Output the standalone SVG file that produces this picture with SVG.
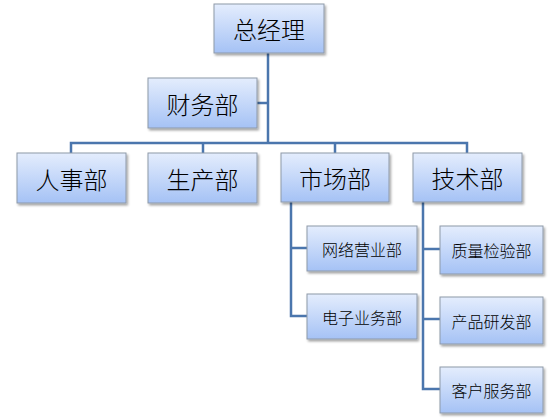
<svg xmlns="http://www.w3.org/2000/svg" width="560" height="420" viewBox="0 0 560 420">
<defs>
<linearGradient id="g" x1="0" y1="0" x2="0" y2="1">
<stop offset="0" stop-color="#e4edfd"/>
<stop offset="1" stop-color="#a5c2f5"/>
</linearGradient>
<filter id="sh" x="-10%" y="-10%" width="130%" height="140%">
<feDropShadow dx="1.5" dy="2" stdDeviation="1.2" flood-color="#000" flood-opacity="0.35"/>
</filter>
<style>
.b{fill:url(#g);stroke:#8e99a8;stroke-width:1;filter:url(#sh)}
.L{font-family:"Noto Sans CJK SC","Noto Sans",sans-serif;font-size:24px;font-weight:300;fill:#000;text-anchor:middle;dominant-baseline:central}
.S{font-family:"Noto Sans CJK SC","Noto Sans",sans-serif;font-size:16px;font-weight:300;fill:#000;text-anchor:middle;dominant-baseline:central}
.c{fill:none;stroke:#4b76ad;stroke-width:2.5}
</style>
</defs>
<g id="connectors">
<path class="c" d="M268 53 V143"/>
<path class="c" d="M257 103 H268"/>
<path class="c" d="M71 153 V143 H467 V153"/>
<path class="c" d="M203 143 V153"/>
<path class="c" d="M335 143 V153"/>
<path class="c" d="M291 202 V316 H307"/>
<path class="c" d="M291 248 H307"/>
<path class="c" d="M423 202 V389 H440"/>
<path class="c" d="M423 249 H440"/>
<path class="c" d="M423 319 H440"/>
</g>
<g id="n-zjl"><rect class="b" x="214" y="4" width="110" height="49"/><text class="L" x="269" y="28.5">总经理</text></g>
<g id="n-cwb"><rect class="b" x="148" y="78" width="109" height="50"/><text class="L" x="202.5" y="103">财务部</text></g>
<g id="n-rsb"><rect class="b" x="17" y="153" width="109" height="50"/><text class="L" x="71.5" y="178">人事部</text></g>
<g id="n-scb"><rect class="b" x="148" y="153" width="109" height="50"/><text class="L" x="202.5" y="178">生产部</text></g>
<g id="n-sc"><rect class="b" x="281" y="153" width="108" height="49"/><text class="L" x="335" y="177.5">市场部</text></g>
<g id="n-js"><rect class="b" x="413" y="153" width="109" height="49"/><text class="L" x="467.5" y="177.5">技术部</text></g>
<g id="n-wl"><rect class="b" x="307" y="226" width="110" height="45"/><text class="S" x="362" y="248.5">网络营业部</text></g>
<g id="n-dz"><rect class="b" x="307" y="294" width="110" height="45"/><text class="S" x="362" y="316.5">电子业务部</text></g>
<g id="n-zl"><rect class="b" x="440" y="226" width="103" height="48"/><text class="S" x="491.5" y="250">质量检验部</text></g>
<g id="n-cp"><rect class="b" x="440" y="297" width="103" height="47"/><text class="S" x="491.5" y="320.5">产品研发部</text></g>
<g id="n-kh"><rect class="b" x="440" y="367" width="103" height="46"/><text class="S" x="491.5" y="390">客户服务部</text></g>
</svg>
